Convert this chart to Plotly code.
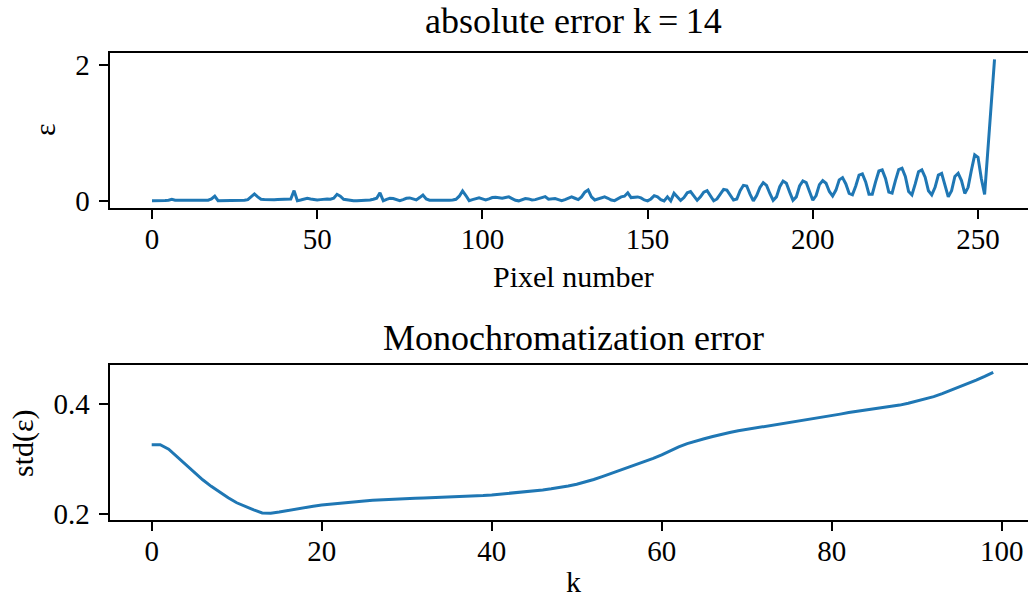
"""Absolute error per pixel (k = 14) and monochromatization error vs k."""

import plotly.graph_objects as go

# ── Data ─────────────────────────────────────────────────────────────────────

pixel_error = [
    0.005, 0.004, 0.004, 0.005, 0.006, 0.012, 0.025, 0.010, 0.010, 0.011,
    0.012, 0.013, 0.012, 0.014, 0.015, 0.016, 0.015, 0.012, 0.030, 0.072,
    0.005, 0.006, 0.005, 0.004, 0.005, 0.006, 0.005, 0.007, 0.010, 0.020,
    0.060, 0.103, 0.060, 0.025, 0.022, 0.018, 0.015, 0.017, 0.020, 0.020,
    0.022, 0.020, 0.030, 0.152, 0.005, 0.015, 0.030, 0.040, 0.030, 0.020,
    0.015, 0.020, 0.028, 0.030, 0.025, 0.040, 0.098, 0.070, 0.025, 0.015,
    0.008, 0.005, 0.005, 0.006, 0.008, 0.012, 0.015, 0.025, 0.040, 0.120,
    0.003, 0.025, 0.040, 0.035, 0.015, 0.005, 0.020, 0.040, 0.045, 0.030,
    0.015, 0.050, 0.088, 0.030, 0.012, 0.012, 0.010, 0.011, 0.012, 0.010,
    0.012, 0.015, 0.025, 0.070, 0.147, 0.080, 0.005, 0.020, 0.035, 0.045,
    0.030, 0.015, 0.030, 0.050, 0.054, 0.045, 0.040, 0.050, 0.060, 0.035,
    0.010, 0.002, 0.020, 0.035, 0.030, 0.015, 0.020, 0.035, 0.050, 0.064,
    0.025, 0.030, 0.035, 0.020, 0.005, 0.020, 0.045, 0.060, 0.040, 0.020,
    0.060, 0.130, 0.162, 0.060, 0.015, 0.030, 0.045, 0.060, 0.040, 0.015,
    0.005, 0.030, 0.060, 0.070, 0.120, 0.050, 0.055, 0.060, 0.045, 0.015,
    0.002, 0.030, 0.078, 0.060, 0.020, 0.002, 0.060, 0.002, 0.113, 0.060,
    0.008, 0.050, 0.120, 0.137, 0.080, 0.010, 0.060, 0.130, 0.152, 0.080,
    0.002, 0.030, 0.110, 0.170, 0.160, 0.080, 0.015, 0.030, 0.150, 0.230,
    0.220, 0.100, 0.002, 0.080, 0.200, 0.270, 0.230, 0.110, 0.010, 0.060,
    0.210, 0.292, 0.260, 0.130, 0.010, 0.060, 0.220, 0.294, 0.270, 0.140,
    0.012, 0.080, 0.240, 0.300, 0.260, 0.140, 0.073, 0.160, 0.310, 0.343,
    0.250, 0.110, 0.090, 0.220, 0.380, 0.397, 0.280, 0.100, 0.100, 0.280,
    0.440, 0.456, 0.330, 0.130, 0.115, 0.300, 0.460, 0.480, 0.360, 0.140,
    0.090, 0.250, 0.430, 0.456, 0.350, 0.150, 0.090, 0.200, 0.380, 0.405,
    0.250, 0.060, 0.150, 0.360, 0.407, 0.300, 0.110, 0.200, 0.450, 0.676,
    0.640, 0.330, 0.095, 0.760, 1.420, 2.080,
]
pixels = list(range(len(pixel_error)))

std_error = [
    0.326, 0.326, 0.318, 0.304, 0.289, 0.275, 0.262, 0.250, 0.239, 0.229,
    0.220, 0.213, 0.207, 0.2015, 0.201, 0.203, 0.206, 0.209, 0.2115, 0.2138,
    0.2158, 0.2175, 0.219, 0.2205, 0.2218, 0.2232, 0.2244, 0.2254, 0.2263, 0.2270,
    0.2276, 0.2282, 0.2287, 0.2292, 0.2297, 0.2303, 0.2309, 0.2315, 0.2322, 0.2331,
    0.2342, 0.2356, 0.2372, 0.2388, 0.2403, 0.2418, 0.2435, 0.2455, 0.2478, 0.2505,
    0.2538, 0.2578, 0.2625, 0.2678, 0.2732, 0.2787, 0.2840, 0.2895, 0.2950, 0.3010,
    0.3075, 0.3150, 0.3220, 0.3280, 0.3330, 0.3370, 0.3410, 0.3450, 0.3485, 0.3515,
    0.3540, 0.3562, 0.3585, 0.3610, 0.3635, 0.3660, 0.3685, 0.3708, 0.3735, 0.3765,
    0.3795, 0.3820, 0.3848, 0.3870, 0.3890, 0.3910, 0.3935, 0.3960, 0.3985, 0.4020,
    0.4060, 0.4095, 0.4140, 0.4195, 0.4255, 0.4320, 0.4380, 0.4440, 0.4510, 0.4585,
]
k_values = list(range(len(std_error)))

top_xticks = [0, 50, 100, 150, 200, 250]
top_yticks = [0, 2]
bottom_xticks = [0, 20, 40, 60, 80, 100]
bottom_yticks = [0.2, 0.4]

# ── Style ────────────────────────────────────────────────────────────────────

W, H = 1028, 598
FONT = "Liberation Serif, Times New Roman, serif"
BLUE = "#1f77b4"
AX_LEFT = 109.5 / W
AXIS_CENTER = 573 / W  # matplotlib axes centre (right spine is cut off)


def axis_style(**kw):
    base = dict(
        showgrid=False,
        zeroline=False,
        showline=True,
        automargin=False,
        linecolor="black",
        linewidth=1.8,
        ticks="outside",
        ticklen=9,
        tickwidth=1.8,
        tickcolor="black",
        tickfont=dict(family=FONT, size=29, color="black"),
    )
    base.update(kw)
    return base


fig = go.Figure()
fig.add_trace(
    go.Scatter(
        x=pixels, y=pixel_error, mode="lines",
        line=dict(color=BLUE, width=3), xaxis="x", yaxis="y",
    )
)
fig.add_trace(
    go.Scatter(
        x=k_values, y=std_error, mode="lines",
        line=dict(color=BLUE, width=3), xaxis="x2", yaxis="y2",
    )
)

fig.update_layout(
    width=W,
    height=H,
    showlegend=False,
    paper_bgcolor="white",
    plot_bgcolor="white",
    margin=dict(l=0, r=0, t=0, b=0, autoexpand=False),
    xaxis=axis_style(
        domain=[AX_LEFT, 1], range=[-12.86, 265.13], mirror=True,
        tickvals=top_xticks, anchor="y", ticklabelstandoff=-5,
    ),
    yaxis=axis_style(
        domain=[1 - 208 / H, 1 - 52.5 / H], range=[-0.103, 2.18],
        tickvals=top_yticks, anchor="x", ticklabelstandoff=3,
    ),
    xaxis2=axis_style(
        domain=[AX_LEFT, 1], range=[-4.965, 103.09], mirror=True,
        tickvals=bottom_xticks, anchor="y2", ticklabelstandoff=-5,
    ),
    yaxis2=axis_style(
        domain=[1 - 520 / H, 1 - 365 / H], range=[0.1885, 0.4718],
        tickvals=bottom_yticks, tickformat=".1f", anchor="x2",
        ticklabelstandoff=3,
    ),
)

# titles and axis labels as annotations so they centre on the full axes
labels = [
    dict(text="absolute error k\u2009=\u200914", x=AXIS_CENTER, y=21, size=36, angle=0),
    dict(text="Pixel number", x=AXIS_CENTER, y=276, size=30, angle=0),
    dict(text="\u03b5", x=45 / W, y=130, size=30, angle=-90),
    dict(text="Monochromatization error", x=AXIS_CENTER, y=338, size=36, angle=0),
    dict(text="k", x=AXIS_CENTER, y=581, size=30, angle=0),
    dict(text="std(\u03b5)", x=23 / W, y=443, size=30, angle=-90),
]
for lab in labels:
    fig.add_annotation(
        text=lab["text"], xref="paper", yref="paper",
        x=lab["x"], y=1 - lab["y"] / H,
        xanchor="center", yanchor="middle", showarrow=False,
        textangle=lab["angle"],
        font=dict(family=FONT, size=lab["size"], color="black"),
    )

# the page's default body margin would shift the fixed-size figure by 8px
fig.write_html(
    "out.html",
    config={"displayModeBar": False},
    post_script="document.body.style.margin = '0';",
)
